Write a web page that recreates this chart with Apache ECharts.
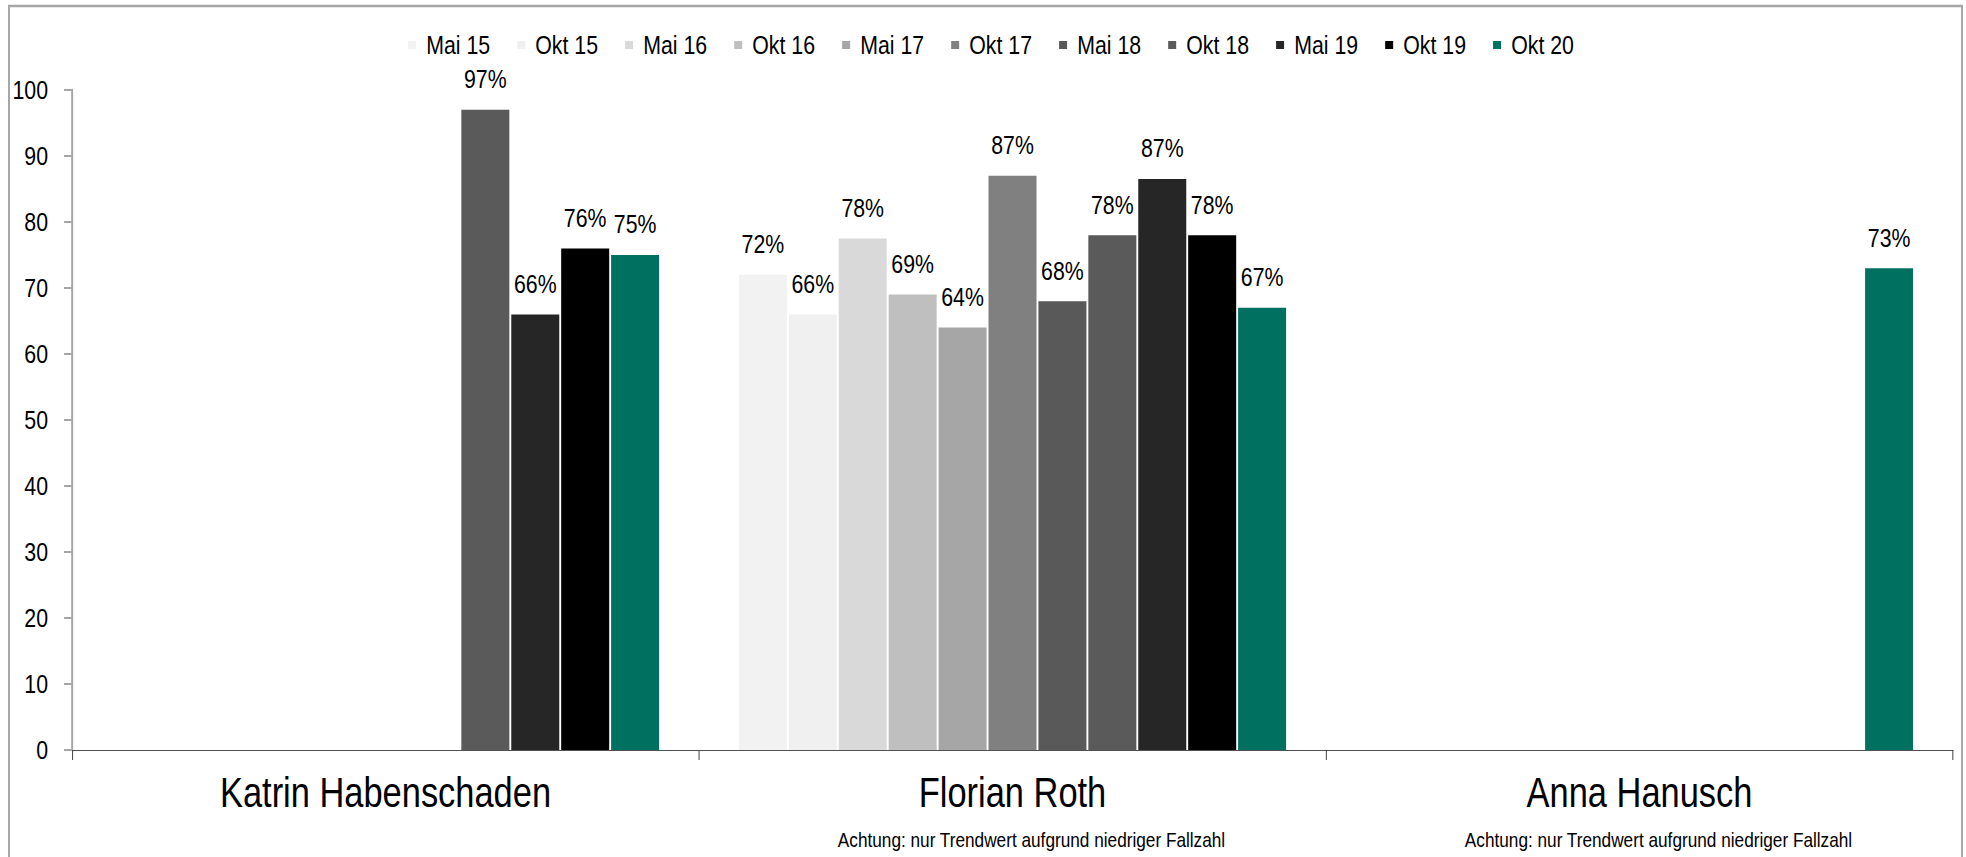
<!DOCTYPE html>
<html>
<head>
<meta charset="utf-8">
<script src="https://cdn.jsdelivr.net/npm/echarts@6/dist/echarts.min.js"></script>
<style>
html,body{margin:0;padding:0;background:#fff;overflow:hidden;width:1966px;height:857px;}
#wrap{width:1966px;height:857px;overflow:hidden;position:relative;}
#chart{position:absolute;left:0;top:0;height:857px;transform-origin:0 0;}
</style>
</head>
<body>
<div id="wrap"><div id="chart"></div></div>
<script>
// ---- data ----
const categories = ['Katrin Habenschaden', 'Florian Roth', 'Anna Hanusch'];
const notes = ['', 'Achtung: nur Trendwert aufgrund niedriger Fallzahl', 'Achtung: nur Trendwert aufgrund niedriger Fallzahl'];
const seriesNames = ['Mai 15', 'Okt 15', 'Mai 16', 'Okt 16', 'Mai 17', 'Okt 17', 'Mai 18', 'Okt 18', 'Mai 19', 'Okt 19', 'Okt 20'];
const mai15 = [null, 72, null];
const okt15 = [null, 66, null];
const mai16 = [null, 77.5, null];
const okt16 = [null, 69, null];
const mai17 = [null, 64, null];
const okt17 = [null, 87, null];
const mai18 = [null, 68, null];
const okt18 = [97, 78, null];
const mai19 = [66, 86.5, null];
const okt19 = [76, 78, null];
const okt20 = [75, 67, 73];
const yTicks = [0, 10, 20, 30, 40, 50, 60, 70, 80, 90, 100];

const seriesValues = [mai15, okt15, mai16, okt16, mai17, okt17, mai18, okt18, mai19, okt19, okt20];
const colors = ['#F2F2F2', '#F0F0F0', '#D9D9D9', '#BFBFBF', '#A6A6A6', '#808080', '#595959', '#5A5A5A', '#262626', '#000000', '#007060'];

// The reference uses a narrow (condensed) typeface; emulate it by drawing with
// Liberation Sans (Arial metrics) and compressing the whole chart horizontally.
const S = 0.82;
const W = 1966, H = 857;
const FONT = "'Liberation Sans', Arial, sans-serif";
const el = document.getElementById('chart');
el.style.width = (W / S) + 'px';
el.style.transform = 'scaleX(' + S + ')';
const X = v => v / S; // convert a target horizontal size into pre-scaled units

const chart = echarts.init(el, null, {renderer: 'svg', width: W / S, height: H});

const series = seriesNames.map((name, i) => ({
  name: name,
  type: 'bar',
  data: seriesValues[i],
  barWidth: X(48),
  barGap: '4%',
  itemStyle: {color: colors[i]},
  label: {
    show: true,
    position: 'top',
    distance: 18,
    color: '#000',
    fontFamily: FONT,
    fontSize: 26,
    formatter: p => (p.value == null ? '' : Math.round(p.value) + '%')
  }
}));

chart.setOption({
  animation: false,
  color: colors,
  textStyle: {fontFamily: FONT},
  graphic: [{
    type: 'rect',
    shape: {x: X(9), y: 6, width: X(1953), height: 900},
    style: {fill: 'none', stroke: '#A6A6A6', lineWidth: 2.4},
    silent: true,
    z: 0
  }],
  legend: {
    top: 27,
    left: X(404),
    icon: 'rect',
    itemWidth: X(8),
    itemHeight: 8,
    itemGap: X(27),
    data: seriesNames,
    textStyle: {fontFamily: FONT, fontSize: 26, color: '#000', padding: [0, 0, 0, X(6)]}
  },
  grid: {left: X(72), right: X(13), top: 90, bottom: 107, containLabel: false},
  xAxis: {
    type: 'category',
    data: categories,
    axisLine: {lineStyle: {color: '#404040', width: 1}},
    axisTick: {show: true, length: 10, lineStyle: {color: '#404040', width: 1.2}},
    axisLabel: {
      margin: 19,
      interval: 0,
      formatter: (v) => {
        const n = notes[categories.indexOf(v)];
        return n ? '{name|' + v + '}\n{note|' + n + '}' : '{name|' + v + '}';
      },
      rich: {
        name: {fontFamily: FONT, fontSize: 42, lineHeight: 46, color: '#000'},
        note: {fontFamily: FONT, fontSize: 21, lineHeight: 50, color: '#000', padding: [0, 0, 0, X(38)]}
      }
    }
  },
  yAxis: {
    type: 'value',
    min: yTicks[0],
    max: yTicks[yTicks.length - 1],
    interval: yTicks[1] - yTicks[0],
    splitLine: {show: false},
    axisLine: {show: true, lineStyle: {color: '#A6A6A6', width: 2.4}},
    axisTick: {show: true, length: X(8), lineStyle: {color: '#A6A6A6', width: 2}},
    axisLabel: {margin: X(24), color: '#000', fontFamily: FONT, fontSize: 26}
  },
  series: series
});
</script>
</body>
</html>
